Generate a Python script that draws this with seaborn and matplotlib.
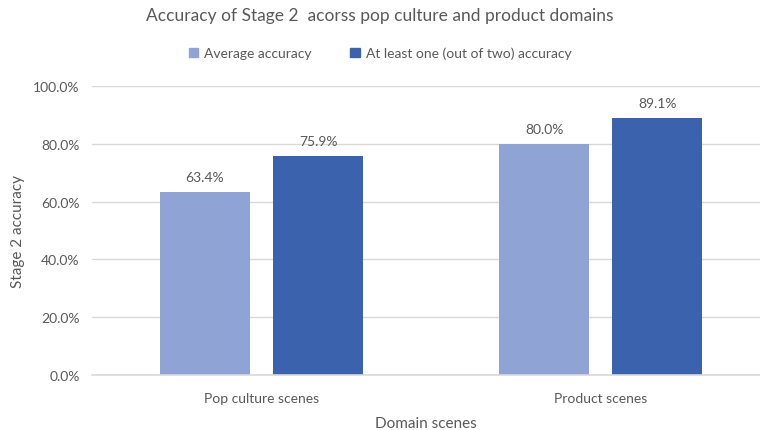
import numpy as np
import pandas as pd
import matplotlib
matplotlib.use("Agg")
from matplotlib import pyplot as plt
from matplotlib.ticker import PercentFormatter
import seaborn as sns

sns.set_theme(style="white")
plt.rcParams['font.family'] = ['Lato', 'DejaVu Sans']

domains = ['Pop culture scenes', 'Product scenes']
series = ['Average accuracy', 'At least one (out of two) accuracy']
avg_acc = [0.634, 0.800]
atleast_acc = [0.759, 0.891]
colors = ['#8FA4D5', '#3B63AD']

df = pd.DataFrame({
    'domain': domains * 2,
    'series': [series[0]] * 2 + [series[1]] * 2,
    'acc': avg_acc + atleast_acc,
})

text_col = '#595959'

fig = plt.figure(figsize=(7.6, 4.31), dpi=100)
ax = fig.add_axes([92 / 760, 1 - 376 / 431, (760 - 92) / 760, (376 - 87) / 431])

sns.barplot(data=df, x='domain', y='acc', hue='series', palette=colors,
            saturation=1, width=0.667, gap=0.2, linewidth=0, ax=ax, legend=False)

for c in ax.containers:
    ax.bar_label(c, labels=[f'{v * 100:.1f}%' for v in c.datavalues],
                 padding=6, fontsize=10, color=text_col)

ax.set_ylim(0, 1)
ax.set_xlim(-0.5, 1.47)
ax.set_yticks(np.arange(0, 1.01, 0.2))
ax.yaxis.set_major_formatter(PercentFormatter(1.0, decimals=1))
ax.grid(axis='y', color='#D9D9D9', linewidth=1)
ax.axhline(0, color='#D9D9D9', linewidth=1.2, clip_on=False, zorder=3)
ax.set_axisbelow(True)
for s in ax.spines.values():
    s.set_visible(False)
ax.tick_params(axis='both', length=0, labelsize=10, labelcolor=text_col)
ax.tick_params(axis='y', pad=9)
ax.tick_params(axis='x', pad=12)
ax.set_xlabel('Domain scenes', fontsize=11, color=text_col, labelpad=9)
ax.set_ylabel('Stage 2 accuracy', fontsize=11, color=text_col, labelpad=6)

handles = [plt.Rectangle((0, 0), 1, 1, color=col) for col in colors]
fig.legend(handles, series, loc='center', bbox_to_anchor=(0.5, 1 - 54 / 431),
           ncol=2, frameon=False, fontsize=10, labelcolor=text_col,
           handlelength=0.7, handleheight=0.7, handletextpad=0.4, columnspacing=2.8)

fig.text(0.5, 1 - 16 / 431, 'Accuracy of Stage 2  acorss pop culture and product domains',
         ha='center', va='center', fontsize=12.5, color=text_col)

fig.savefig('out.png', dpi=100)
